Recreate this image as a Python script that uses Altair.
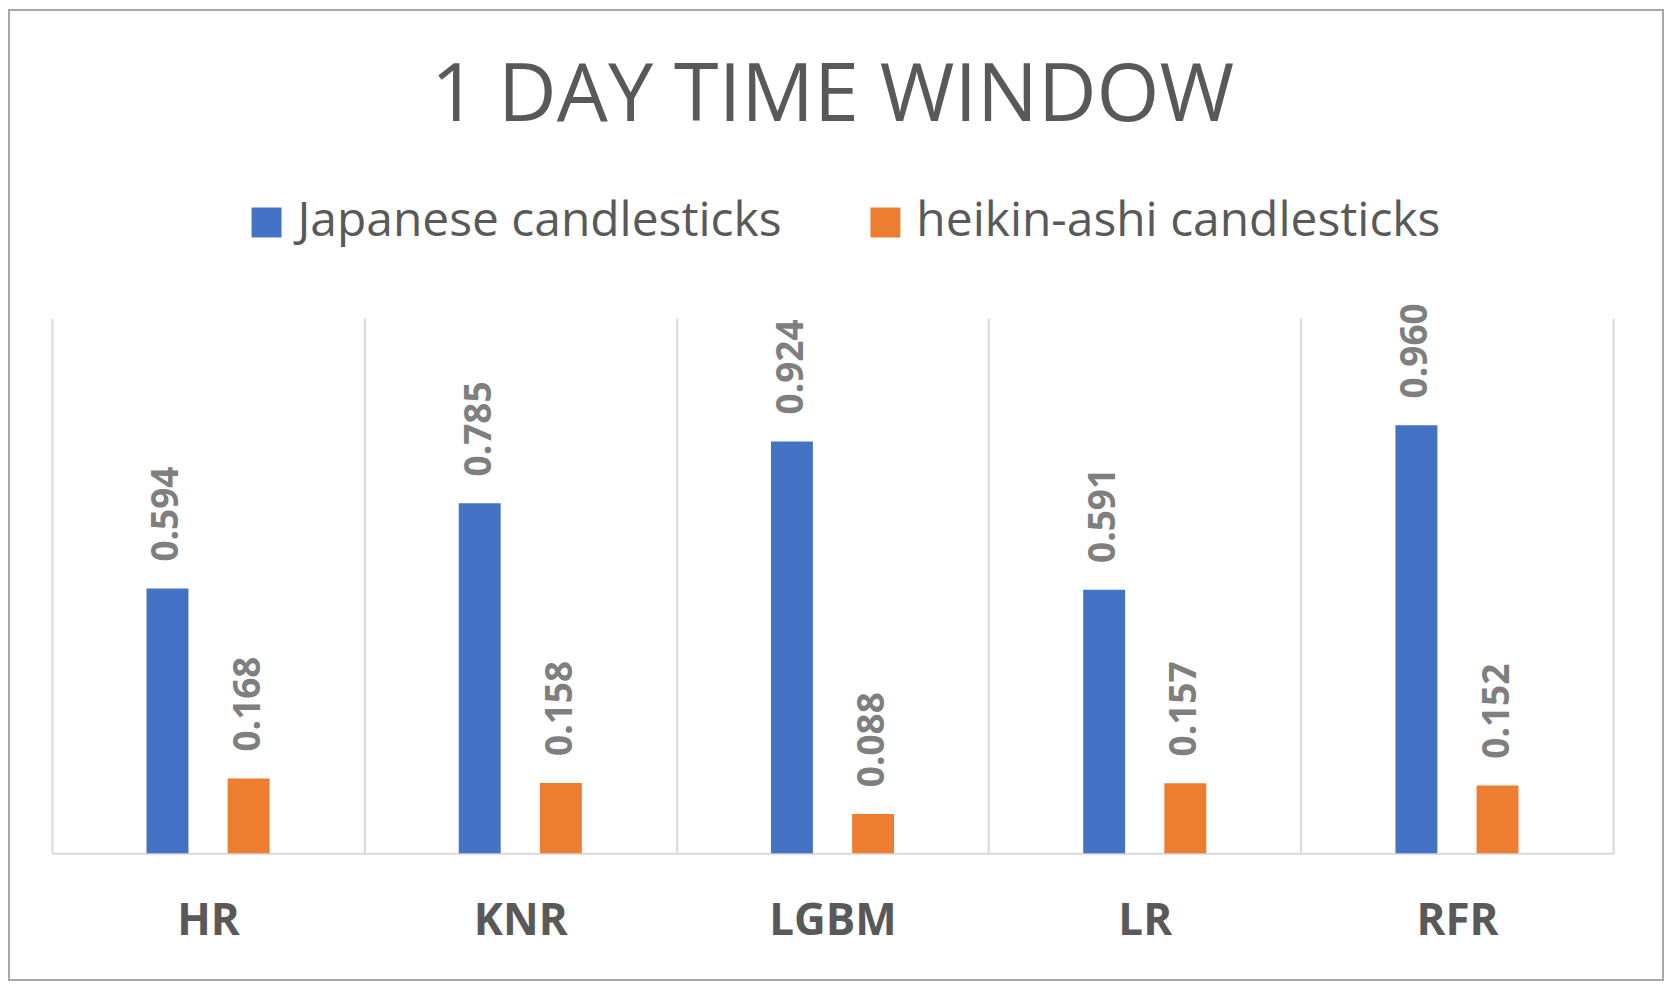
import altair as alt
import pandas as pd

models = ["HR", "KNR", "LGBM", "LR", "RFR"]
japanese = [0.594, 0.785, 0.924, 0.591, 0.960]
heikin = [0.168, 0.158, 0.088, 0.157, 0.152]
series_names = ["Japanese candlesticks", "heikin-ashi candlesticks"]
colors = ["#4472C4", "#ED7D31"]

rows = []
for m, j, h in zip(models, japanese, heikin):
    rows.append({"model": m, "series": series_names[0], "value": j})
    rows.append({"model": m, "series": series_names[1], "value": h})
df = pd.DataFrame(rows)

FONT = "Open Sans"

base = alt.Chart(df).encode(
    x=alt.X(
        "model:N",
        sort=models,
        scale=alt.Scale(paddingInner=0, paddingOuter=0),
        axis=alt.Axis(
            title=None,
            labelAngle=0,
            labelFont=FONT,
            labelFontSize=44,
            labelFontWeight="bold",
            labelColor="#595959",
            labelBaseline="alphabetic",
            labelPadding=81,
            ticks=False,
            tickSize=0,
            domainColor="#d9d9d9",
            domainWidth=2,
            grid=True,
            gridColor="#d9d9d9",
            gridWidth=2,
            tickBand="extent",
        ),
    ),
    xOffset=alt.XOffset(
        "series:N",
        sort=series_names,
        scale=alt.Scale(paddingInner=0, paddingOuter=0.924),
    ),
    y=alt.Y("value:Q", scale=alt.Scale(domain=[0, 1.2]), axis=None),
)

bars = base.mark_bar(width=42).encode(
    color=alt.Color(
        "series:N",
        sort=series_names,
        scale=alt.Scale(domain=series_names, range=colors),
        legend=alt.Legend(
            orient="none",
            legendX=191,
            legendY=-120,
            direction="horizontal",
            title=None,
            symbolType="square",
            symbolSize=900,
            symbolStrokeWidth=0,
            labelFont=FONT,
            labelFontSize=48,
            labelColor="#595959",
            labelOffset=7,
            columnPadding=79,
            padding=0,
            labelLimit=0,
        ),
    )
)

labels = base.mark_text(
    angle=270,
    align="left",
    baseline="middle",
    dx=27,
    font=FONT,
    fontSize=37,
    fontWeight="bold",
    color="#7f7f7f",
).encode(text=alt.Text("value:Q", format=".3f"))

border = alt.Chart(alt.Data(values=[{}])).mark_rect(
    fill="transparent", stroke="#a6a6a6", strokeWidth=2
).encode(
    x=alt.value(-43), x2=alt.value(1614), y=alt.value(-309), y2=alt.value(663)
)

chart = (
    alt.layer(border, bars, labels)
    .properties(
        width=1564,
        height=536,
        padding=0,
        background="white",
        title=alt.TitleParams(
            "1 DAY TIME WINDOW",
            font=FONT,
            fontSize=81,
            fontWeight="normal",
            color="#595959",
            anchor="middle",
            offset=-129,
        ),
    )
    .configure_view(stroke=None)
)

chart.save("out.html", embed_options={"renderer": "svg", "actions": False})
